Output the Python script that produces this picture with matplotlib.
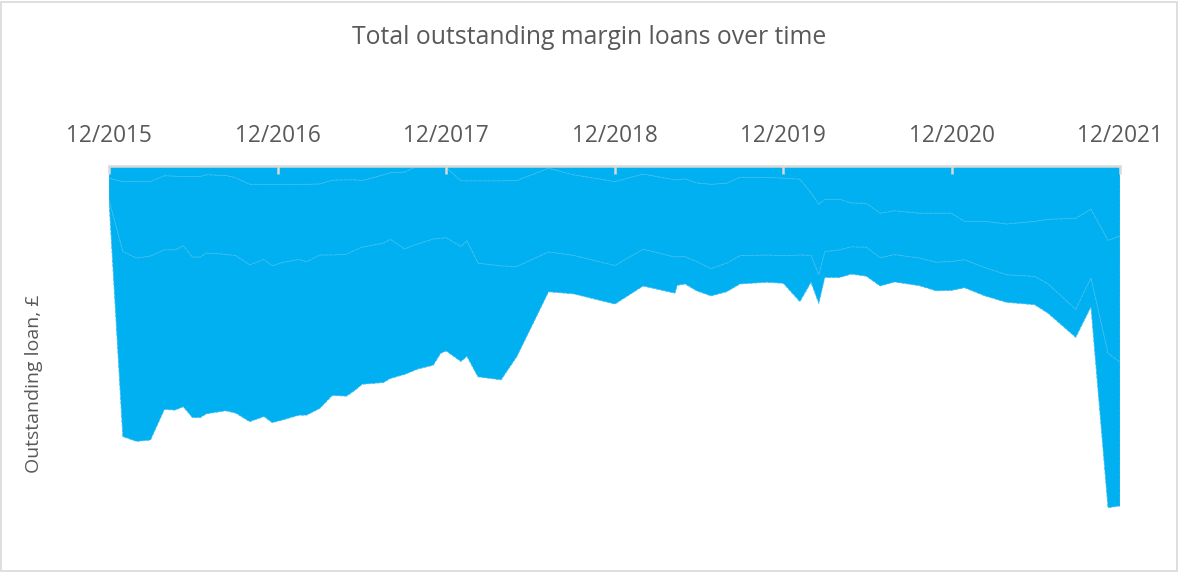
import matplotlib
matplotlib.use("Agg")
import matplotlib.pyplot as plt
import numpy as np
import pandas as pd

plt.rcParams['font.family'] = ['Open Sans', 'DejaVu Sans']

dates = ["2015-12-01", "2015-12-31", "2016-01-30", "2016-02-29", "2016-03-30", "2016-04-22",
         "2016-05-10", "2016-05-30", "2016-06-16", "2016-06-29", "2016-08-10", "2016-09-01",
         "2016-10-01", "2016-11-01", "2016-11-19", "2016-12-11", "2017-01-16", "2017-02-01",
         "2017-03-02", "2017-03-29", "2017-04-29", "2017-05-17", "2017-06-02", "2017-07-18",
         "2017-08-02", "2017-09-02", "2017-10-01", "2017-11-03", "2017-11-19", "2017-12-01",
         "2018-01-02", "2018-01-15", "2018-02-08", "2018-03-30", "2018-05-03", "2018-07-11",
         "2018-09-03", "2018-12-02", "2019-02-01", "2019-04-11", "2019-04-16", "2019-05-03",
         "2019-05-28", "2019-06-28", "2019-08-01", "2019-08-30", "2019-10-27", "2019-12-02",
         "2020-01-07", "2020-01-31", "2020-02-17", "2020-03-01", "2020-04-02", "2020-04-27",
         "2020-05-30", "2020-06-29", "2020-07-30", "2020-09-22", "2020-10-28", "2020-11-30",
         "2020-12-29", "2021-02-11", "2021-03-30", "2021-05-30", "2021-06-28", "2021-08-27",
         "2021-09-29", "2021-11-05", "2021-12-01"]

series_a = [3.6, 4.6, 4.6, 4.6, 2.9, 3.0, 3.1, 3.1, 3.1, 2.6, 2.8, 3.5,
            5.4, 5.4, 5.4, 5.4, 5.4, 5.4, 5.3, 4.2, 4.1, 4.1, 4.3, 2.6,
            2.0, 1.8, 0.0, 0.0, 0.0, 0.4, 4.4, 4.4, 4.4, 4.4, 4.3, 0.7,
            2.6, 4.6, 2.4, 4.1, 4.1, 3.8, 5.0, 5.4, 5.1, 3.3, 3.4, 3.6,
            3.9, 7.9, 11.3, 9.8, 9.8, 10.9, 11.0, 13.9, 13.2, 13.9, 13.9, 13.9,
            16.3, 16.3, 17.1, 16.3, 15.7, 15.4, 12.7, 21.9, 20.6]

series_b = [6.4, 20.6, 22.5, 21.9, 21.8, 21.7, 20.4, 23.7, 23.7, 23.0, 23.2, 22.9,
            23.7, 22.1, 24.0, 23.0, 22.1, 22.8, 20.9, 22.0, 21.9, 20.7, 19.6, 20.1,
            19.6, 22.6, 22.9, 21.5, 21.3, 20.7, 19.3, 17.6, 24.2, 25.0, 25.3, 24.6,
            23.7, 24.7, 22.1, 22.7, 22.6, 22.9, 23.1, 24.8, 23.5, 23.1, 22.8, 22.8,
            22.3, 18.4, 20.8, 15.4, 14.9, 12.9, 12.9, 13.1, 12.9, 13.2, 14.4, 14.2,
            11.3, 13.6, 14.9, 16.2, 19.0, 26.8, 20.3, 33.2, 37.1]

series_c = [0.0, 54.4, 53.9, 54.1, 46.9, 47.1, 47.3, 47.2, 47.2, 47.3, 46.0, 46.3,
            46.1, 46.2, 46.1, 46.3, 45.8, 45.1, 45.1, 41.3, 41.7, 41.2, 40.3, 41.0,
            40.9, 36.9, 36.8, 37.1, 33.8, 33.3, 33.8, 34.0, 33.4, 33.5, 26.5, 11.7,
            11.3, 11.3, 10.8, 10.6, 8.4, 8.0, 8.6, 8.0, 8.4, 8.3, 8.0, 8.1,
            13.7, 7.9, 8.3, 7.6, 8.1, 8.0, 8.5, 8.3, 8.0, 8.1, 8.4, 8.5,
            8.2, 8.3, 8.1, 8.3, 8.6, 8.2, 8.4, 45.4, 42.3]

tick_dates = ["2015-12-01", "2016-12-01", "2017-12-01", "2018-12-01",
              "2019-12-01", "2020-12-01", "2021-12-01"]
tick_labels = ["12/2015", "12/2016", "12/2017", "12/2018", "12/2019", "12/2020", "12/2021"]

title = "Total outstanding margin loans over time"
ylabel = "Outstanding loan, £"

W, H = 1178, 572
fig = plt.figure(figsize=(W / 100, H / 100), dpi=100)

# chart border
fig.patches.append(plt.Rectangle((1 / W, 1 / H), (W - 2.5) / W, (H - 2.5) / H,
                                 transform=fig.transFigure, fill=False,
                                 edgecolor='#d9d9d9', linewidth=1.2))

left, right, top, bottom = 109, 1120, 166, 560
ax = fig.add_axes([left / W, (H - bottom) / H, (right - left) / W, (bottom - top) / H])

x = pd.to_datetime(dates)
blue = '#00B0F0'
edge = '#3dbdef'
ax.stackplot(x, series_a, series_b, series_c, colors=[blue, blue, blue],
             edgecolor=edge, linewidth=0.6, linestyle=(0, (4, 1.5)))

ax.set_xlim(pd.Timestamp(tick_dates[0]), pd.Timestamp(tick_dates[-1]))
ax.set_ylim(115.9, 0)

ax.xaxis.set_ticks_position('top')
ax.xaxis.set_label_position('top')
ax.set_xticks(pd.to_datetime(tick_dates))
ax.set_xticklabels(tick_labels)
ax.tick_params(axis='x', direction='in', length=6, width=1.8, color='#d9d9d9',
               labelsize=16.3, labelcolor='#595959', pad=13)
ax.set_yticks([])
for s in ['left', 'right', 'bottom']:
    ax.spines[s].set_visible(False)
ax.spines['top'].set_color('#d9d9d9')
ax.spines['top'].set_linewidth(1.8)
ax.spines['top'].set_zorder(5)

fig.text(589 / W, 1 - 38 / H, title, ha='center', va='center',
         fontsize=17.8, color='#595959')
fig.text(34 / W, 1 - 384 / H, ylabel, ha='center', va='center', rotation=90,
         fontsize=14, color='#595959')

fig.savefig('out.png', dpi=100)
